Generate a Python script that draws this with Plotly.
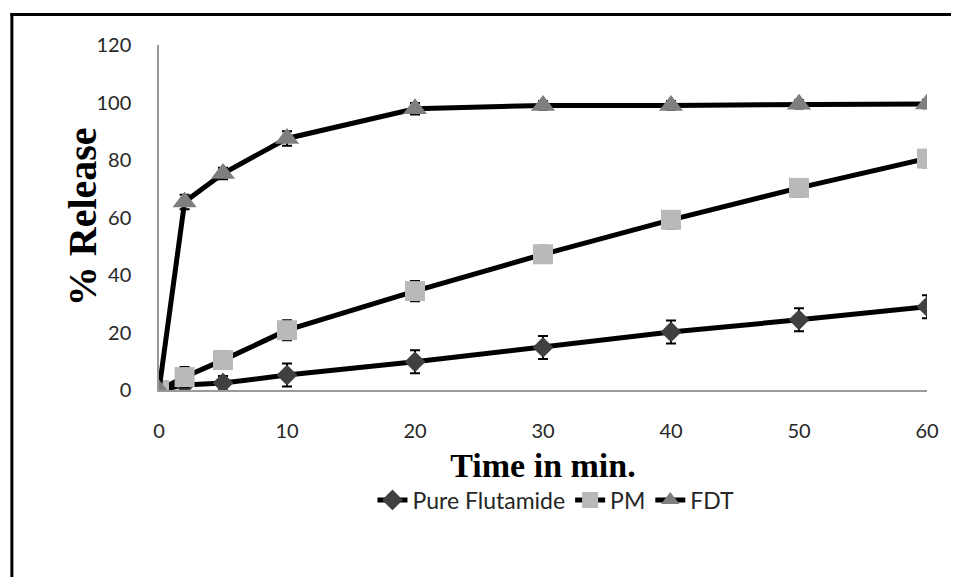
import plotly.graph_objects as go

time_min = [0, 2, 5, 10, 20, 30, 40, 50, 60]
pure_flutamide = [0, 1.7, 2.4, 5.2, 9.8, 14.8, 20.2, 24.4, 29.0]
pure_err = [0, 2.5, 2.5, 4, 4, 4, 4, 4, 4]
pm = [0, 4.5, 10.4, 20.8, 34.4, 47.2, 59.2, 70.3, 80.5]
pm_err = [0, 3.5, 3, 3.5, 3.5, 3, 3, 3, 3]
fdt = [0, 65.4, 75.3, 87.5, 97.8, 99.0, 99.0, 99.4, 99.5]
fdt_err = [0, 2.5, 2, 2.5, 2, 1.5, 1.5, 1.5, 1.5]

x_ticks = [0, 10, 20, 30, 40, 50, 60]
y_ticks = [0, 20, 40, 60, 80, 100, 120]

series = [
    ("Pure Flutamide", pure_flutamide, pure_err, "diamond", "#404040", 16),
    ("PM", pm, pm_err, "square", "#b9b9b9", 20),
    ("FDT", fdt, fdt_err, "triangle-up", "#7f7f7f", 21),
]

fig = go.Figure()
for name, vals, err, sym, col, sz in series:
    fig.add_trace(go.Scatter(
        x=time_min, y=vals, name=name, mode="lines+markers",
        line=dict(color="black", width=5),
        marker=dict(symbol=sym, color=col, size=sz, line=dict(width=0)),
        error_y=dict(type="data", array=err, visible=True, color="black", thickness=2, width=5),
    ))

# page body has an 8px margin; figure coordinates = page coordinates - 8
OFF = 8
W, H = 959 - 2 * OFF, 585 - 2 * OFF
L, R, T, B = 159 - OFF, 929 - OFF, 45 - OFF, 390 - OFF
pw, ph = R - L, B - T

def px_to_paper_x(p):
    return (p - OFF - L) / pw

def px_to_paper_y(p):
    return (B - (p - OFF)) / ph

# outer frame: only top and left edges are visible in the reference
frame = dict(color="black", width=3)
fig.add_shape(type="line", xref="paper", yref="paper",
              x0=px_to_paper_x(10), x1=px_to_paper_x(958),
              y0=px_to_paper_y(14.5), y1=px_to_paper_y(14.5), line=frame, layer="above")
fig.add_shape(type="line", xref="paper", yref="paper",
              x0=px_to_paper_x(11.5), x1=px_to_paper_x(11.5),
              y0=px_to_paper_y(13), y1=px_to_paper_y(590), line=frame, layer="above")

fig.add_annotation(text="<b>% Release</b>", textangle=-90, showarrow=False,
                   xref="paper", yref="paper", x=px_to_paper_x(82), y=px_to_paper_y(217),
                   xanchor="center", yanchor="middle",
                   font=dict(family="Liberation Serif, Times New Roman, serif", size=40, color="black"))

tick_font = dict(family="Lato, Open Sans, sans-serif", size=20, color="#262626")
fig.update_layout(
    width=W, height=H,
    margin=dict(l=L, r=W - R, t=T, b=H - B),
    paper_bgcolor="white", plot_bgcolor="white",
    showlegend=True,
    legend=dict(orientation="h", x=px_to_paper_x(557), xanchor="center",
                y=px_to_paper_y(500), yanchor="middle",
                font=dict(family="Lato, Open Sans, sans-serif", size=23, color="#262626"),
                traceorder="normal"),
    xaxis=dict(range=[0, 60], tickvals=x_ticks, showgrid=False, zeroline=False,
               showline=True, linecolor="#9a9a9a", linewidth=1.5, ticks="",
               tickfont=tick_font, ticklabelstandoff=22,
               title=dict(text="<b>Time in min.</b>", standoff=12,
                          font=dict(family="Liberation Serif, Times New Roman, serif", size=34, color="black"))),
    yaxis=dict(range=[0, 120], tickvals=y_ticks, showgrid=False, zeroline=False,
               showline=True, linecolor="#9a9a9a", linewidth=1.5, ticks="",
               tickfont=tick_font, ticklabelstandoff=22),
)

fig.write_html("out.html")
